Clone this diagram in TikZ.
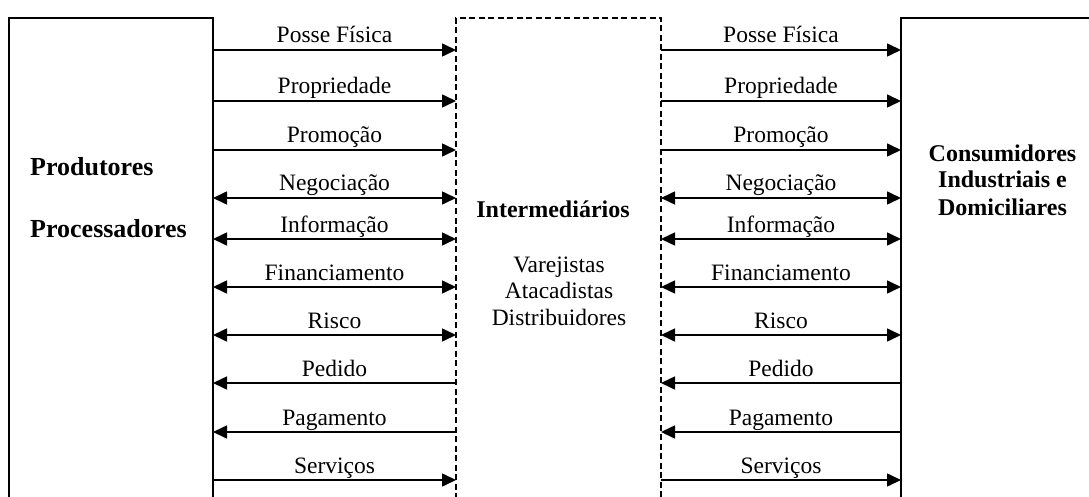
\documentclass[tikz,border=0pt]{standalone}
\usepackage{fontspec}
\setmainfont{Liberation Serif}
\usetikzlibrary{arrows.meta}
\begin{document}
\begin{tikzpicture}[x=1pt,y=-1pt,
  box/.style={draw, line width=1.6pt, inner sep=0pt, outer sep=0pt, anchor=north west},
  flow/.style={line width=1.6pt},
  tip/.style={Triangle[length=14pt,width=13pt]},
  fwd/.style={-{Triangle[length=14pt,width=13pt]}},
  bwd/.style={{Triangle[length=14pt,width=13pt]}-},
  both/.style={{Triangle[length=14pt,width=13pt]}-{Triangle[length=14pt,width=13pt]}},
  lbl/.style={anchor=base, yshift=7pt, inner sep=0pt, font=\fontsize{23.5}{26}\selectfont},
  big/.style={inner sep=0pt, font=\fontsize{26}{30}\selectfont\bfseries},
  title/.style={inner sep=0pt, anchor=base, font=\fontsize{24}{27}\selectfont\bfseries},
  plain/.style={inner sep=0pt, anchor=base, font=\fontsize{23.5}{26}\selectfont}]
\useasboundingbox (0,0) rectangle (1089,497);
\clip (0,0) rectangle (1089,497);
\node[box, minimum width=204pt, minimum height=540pt] (L) at (9,18) {};
\node[box, dash pattern=on 6pt off 3.5pt, minimum width=205pt, minimum height=540pt] (M) at (456,18) {};
\node[box, minimum width=240pt, minimum height=540pt] (R) at (901,18) {};

\node[big, anchor=base west] (p1) at (30,176) {Produtores};
\node[big, anchor=base west] (p2) at (30,237) {Processadores};

\node[title] (m1) at (553,217) {Intermediários};
\node[plain] (m2) at (559,272) {Varejistas};
\node[plain] (m3) at (559,298) {Atacadistas};
\node[plain] (m4) at (559,325) {Distribuidores};

\node[title] (c1) at (1002.5,162) {Consumidores};
\node[title] (c2) at (1002.5,188) {Industriais e};
\node[title] (c3) at (1002.5,215) {Domiciliares};

\foreach \i/\y/\txt/\sty in {1/50/Posse Física/fwd, 2/101/Propriedade/fwd, 3/150/Promoção/fwd,
  4/198/Negociação/both, 5/239/Informação/both, 6/287/Financiamento/both, 7/335/Risco/both,
  8/383/Pedido/bwd, 9/432/Pagamento/bwd, 10/480/Serviços/fwd}{
  \coordinate (y\i) at (0,\y);
  \draw[flow,\sty] (L.east |- y\i) -- (M.west |- y\i) node[midway, lbl] {\txt};
  \draw[flow,\sty] (M.east |- y\i) -- (R.west |- y\i) node[midway, lbl] {\txt};
}
\end{tikzpicture}
\end{document}
